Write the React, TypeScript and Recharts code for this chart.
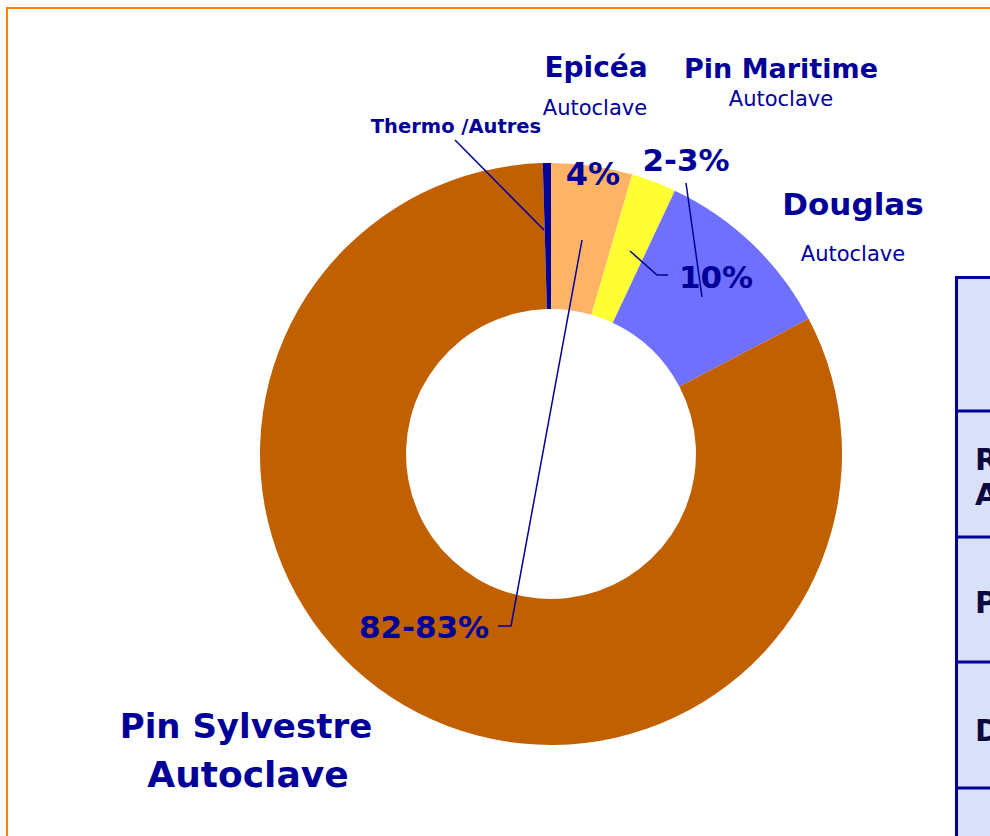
import React from 'react';
import { PieChart, Pie, Cell } from 'recharts';

// ---- data ----
const categories = ['Epicéa', 'Pin Maritime', 'Douglas', 'Pin Sylvestre', 'Thermo /Autres'];
const shares = [4.5, 2.5, 10.3, 82.25, 0.45];
const valueLabels = ['4%', '2-3%', '10%', '82-83%', ''];
const subLabels = ['Autoclave', 'Autoclave', 'Autoclave', 'Autoclave', ''];
const tableRowLabels = [['', ''], ['Résineux', 'Autoclave'], ['Pin Sylvestre', ''], ['Douglas', ''], ['', '']];

const colors = ['#FFB366', '#FFFF33', '#7070FF', '#C06000', '#000099'];
const NAVY = '#000099';
const FONT = '"DejaVu Sans", Verdana, sans-serif';

const data = categories.map((name, i) => ({ name, value: shares[i] }));

// ---- layout (page coordinates) ----
const CX = 551;
const CY = 454;

type T = { text: string; x: number; y: number; size: number; bold: boolean; anchor?: 'start' | 'middle' | 'end' };
const texts: T[] = [
  { text: categories[0], x: 596, y: 77, size: 28, bold: true },
  { text: subLabels[0], x: 595, y: 115, size: 21, bold: false },
  { text: categories[1], x: 781, y: 78, size: 27, bold: true },
  { text: subLabels[1], x: 781, y: 106, size: 21, bold: false },
  { text: categories[4], x: 456, y: 133, size: 19.5, bold: true },
  { text: valueLabels[0], x: 593, y: 185, size: 32, bold: true },
  { text: valueLabels[1], x: 686, y: 171, size: 31, bold: true },
  { text: categories[2], x: 853, y: 215, size: 31, bold: true },
  { text: subLabels[2], x: 853, y: 261, size: 21, bold: false },
  { text: valueLabels[2], x: 716, y: 288, size: 31, bold: true },
  { text: valueLabels[3], x: 424, y: 638, size: 31, bold: true },
  { text: categories[3], x: 246, y: 738, size: 34, bold: true },
  { text: subLabels[3], x: 248, y: 787, size: 36, bold: true },
];

const leaders: string[] = [
  '455,140 544,230',
  '686,183 702,297',
  '630,251 657,275 668,275',
  '582,240 511,626 498,626',
];

const tableTop = 277;
const tableRows = [277, 411, 537, 662, 788];
const tableTextY = [[0, 0], [470, 505], [613, 0], [741, 0], [0, 0]];

export default function App() {
  return (
    <div style={{ position: 'fixed', left: 0, top: 0, width: 990, height: 836, overflow: 'hidden', background: '#fff' }}>
      <div style={{ position: 'absolute', left: 0, top: 0 }}>
        <PieChart width={990} height={836} margin={{ top: 0, right: 0, bottom: 0, left: 0 }}>
          <Pie
            data={data}
            dataKey="value"
            nameKey="name"
            cx={CX}
            cy={CY}
            innerRadius={145}
            outerRadius={291}
            startAngle={90}
            endAngle={-270}
            stroke="none"
            isAnimationActive={false}
            label={false}
            labelLine={false}
          >
            {data.map((d, i) => (
              <Cell key={d.name} fill={colors[i]} />
            ))}
          </Pie>
        </PieChart>
      </div>
      <svg width={990} height={836} style={{ position: 'absolute', left: 0, top: 0, pointerEvents: 'none' }}>
        {/* frame */}
        <polyline points="7,836 7,8 990,8" fill="none" stroke="#FF8000" strokeWidth={2} />
        {/* table */}
        <rect x={956.5} y={tableTop + 0.5} width={200} height={700} fill="#D9E1F9" stroke={NAVY} strokeWidth={3} />
        {tableRows.slice(1).map((y) => (
          <line key={y} x1={955} x2={990} y1={y} y2={y} stroke={NAVY} strokeWidth={3} />
        ))}
        {tableRowLabels.map((row, r) =>
          row.map((t, k) =>
            t ? (
              <text key={`${r}-${k}`} x={975} y={tableTextY[r][k]} fontFamily={FONT} fontWeight="bold" fontSize={30} fill="#0A0A40">
                {t}
              </text>
            ) : null
          )
        )}
        {/* leader lines */}
        {leaders.map((p, i) => (
          <polyline key={i} points={p} fill="none" stroke={NAVY} strokeWidth={1.5} />
        ))}
        {/* labels */}
        {texts.map((t, i) => (
          <text
            key={i}
            x={t.x}
            y={t.y}
            textAnchor={t.anchor || 'middle'}
            fontFamily={FONT}
            fontWeight={t.bold ? 'bold' : 'normal'}
            fontSize={t.size}
            fill={NAVY}
          >
            {t.text}
          </text>
        ))}
      </svg>
    </div>
  );
}
